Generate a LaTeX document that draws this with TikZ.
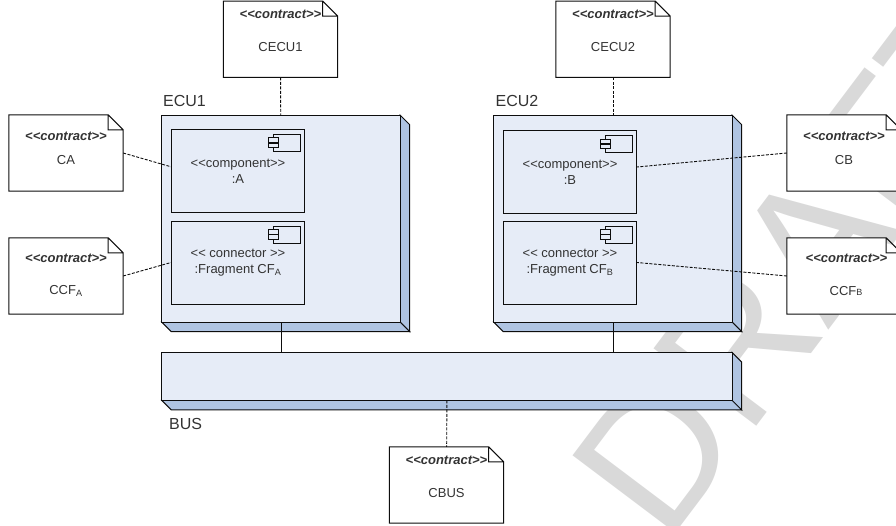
\documentclass[tikz,border=0pt]{standalone}
\usepackage{fontspec}
\setmainfont{Liberation Sans}
\definecolor{boxfront}{HTML}{E6ECF7}
\definecolor{boxside}{HTML}{AFC4E2}
\definecolor{boxline}{HTML}{0D0D0D}
\definecolor{watermark}{HTML}{D9D9D9}
\begin{document}
\begin{tikzpicture}[x=1pt,y=-1pt,font=\fontsize{13}{16}\selectfont,text=black!80]
\tikzstyle{contract} = [rectangle, minimum width=114pt, minimum height=76pt, inner sep=0pt,
append after command={\pgfextra{\draw [draw=boxline, fill=white, line width=1pt]
(\tikzlastnode.north west) -- ([xshift=-15pt]\tikzlastnode.north east) -- ([yshift=-15pt]\tikzlastnode.north east) -- (\tikzlastnode.south east) -- (\tikzlastnode.south west) -- cycle
([xshift=-15pt]\tikzlastnode.north east) |- ([yshift=-15pt]\tikzlastnode.north east);}}]
\tikzstyle{stereo} = [inner sep=0pt, font=\fontsize{13}{16}\selectfont\bfseries\itshape]
\tikzstyle{device} = [rectangle, inner sep=0pt,
append after command={\pgfextra{\draw [draw=boxline, fill=boxside, line width=1pt]
(\tikzlastnode.north east) -- ++(9.5pt,-9.5pt) -- ([shift={(9.5pt,-9.5pt)}]\tikzlastnode.south east) -- (\tikzlastnode.south east) -- cycle
(\tikzlastnode.south west) -- ++(9.5pt,-9.5pt) -- ([shift={(9.5pt,-9.5pt)}]\tikzlastnode.south east) -- (\tikzlastnode.south east) -- cycle;
\draw [draw=boxline, fill=boxfront, line width=1pt] (\tikzlastnode.north west) rectangle (\tikzlastnode.south east);}}]
\tikzstyle{part} = [rectangle, draw=boxline, fill=boxfront, line width=.9pt, minimum width=133pt, minimum height=83pt, inner sep=0pt, align=center]
\tikzstyle{icon} = [rectangle, draw=boxline, fill=boxfront, line width=.9pt, minimum width=27pt, minimum height=17pt, inner sep=0pt]
\tikzstyle{plug} = [rectangle, draw=boxline, fill=boxfront, line width=.9pt, minimum width=10.5pt, minimum height=4.4pt, inner sep=0pt]
\tikzstyle{partname} = [inner sep=0pt, align=center]
\tikzstyle{title} = [inner sep=0pt, font=\fontsize{16}{16}\selectfont, anchor=base west]
\tikzstyle{line} = [draw=boxline, line width=.9pt]
\tikzstyle{dep} = [draw=boxline, line width=.9pt, dash pattern=on 3pt off 1.5pt]
\useasboundingbox (0,0) rectangle (896,526);
% watermark
\node [rotate=53, text=watermark, inner sep=0pt, anchor=base west, font=\fontsize{187}{187}\selectfont] (draft) at (666,546) {DRAFT};
% contracts
\node [contract] (CECU1) at (280.5,39.3) {};
\node [contract] (CECU2) at (613,39.3) {};
\node [contract] (CA) at (66,153) {};
\node [contract] (CCFA) at (66,276) {};
\node [contract] (CB) at (844,153) {};
\node [contract] (CCFB) at (844,276) {};
\node [contract] (CBUS) at (446.5,485) {};
\node [stereo] (sCECU1) at ([yshift=-13pt]CECU1.north) {<{}<contract>{}>};
\node [stereo] (sCECU2) at ([yshift=-13pt]CECU2.north) {<{}<contract>{}>};
\node [stereo] (sCA) at ([yshift=-21.5pt]CA.north) {<{}<contract>{}>};
\node [stereo] (sCCFA) at ([yshift=-21pt]CCFA.north) {<{}<contract>{}>};
\node [stereo] (sCB) at ([yshift=-21.5pt]CB.north) {<{}<contract>{}>};
\node [stereo] (sCCFB) at ([shift={(2.5pt,-21pt)}]CCFB.north) {<{}<contract>{}>};
\node [stereo] (sCBUS) at ([yshift=-13.5pt]CBUS.north) {<{}<contract>{}>};
\node [partname] (nCECU1) at ([yshift=-8pt]CECU1.center) {CECU1};
\node [partname] (nCECU2) at ([yshift=-8pt]CECU2.center) {CECU2};
\node [partname] (nCA) at ([yshift=-7pt]CA.center) {CA};
\node [partname] (nCCFA) at ([yshift=-15pt]CCFA.center) {CCF\textsubscript{A}};
\node [partname] (nCB) at ([yshift=-7pt]CB.center) {CB};
\node [partname] (nCCFB) at ([shift={(2pt,-15pt)}]CCFB.center) {CCF{\fontsize{9}{9}\selectfont B}};
\node [partname] (nCBUS) at ([yshift=-8pt]CBUS.center) {CBUS};
% devices
\node [device, minimum width=238pt, minimum height=206.5pt] (ECU1) at (281,218.7) {};
\node [device, minimum width=238pt, minimum height=206.5pt] (ECU2) at (613,218.7) {};
\node [device, minimum width=570pt, minimum height=47.5pt] (BUS) at (447,376.5) {};
\node [title] (tECU1) at (163,106.5) {ECU1};
\node [title] (tECU2) at (495.5,106.5) {ECU2};
\node [title] (tBUS) at (169,429) {BUS};
% parts
\node [part] (A) at (238,170.8) {<{}<component>{}>\\:A};
\node [part] (FA) at (238,262.5) {<{}< connector >{}>\\:Fragment CF\textsubscript{A}};
\node [part] (B) at (570,172) {<{}<component>{}>\\:B};
\node [part] (FB) at (570,262.5) {<{}< connector >{}>\\:Fragment CF\textsubscript{B}};
% component icons
\node [icon, anchor=north east] (iconA) at ([shift={(-4pt,-5pt)}]A.north east) {};
\node [plug, anchor=south] (plugA1) at ([xshift=-13.4pt]iconA.center) {};
\node [plug, anchor=north] (plugA2) at ([xshift=-13.4pt]iconA.center) {};
\node [icon, anchor=north east] (iconFA) at ([shift={(-4pt,-5pt)}]FA.north east) {};
\node [plug, anchor=south] (plugFA1) at ([xshift=-13.4pt]iconFA.center) {};
\node [plug, anchor=north] (plugFA2) at ([xshift=-13.4pt]iconFA.center) {};
\node [icon, anchor=north east] (iconB) at ([shift={(-4pt,-5pt)}]B.north east) {};
\node [plug, anchor=south] (plugB1) at ([xshift=-13.4pt]iconB.center) {};
\node [plug, anchor=north] (plugB2) at ([xshift=-13.4pt]iconB.center) {};
\node [icon, anchor=north east] (iconFB) at ([shift={(-4pt,-5pt)}]FB.north east) {};
\node [plug, anchor=south] (plugFB1) at ([xshift=-13.4pt]iconFB.center) {};
\node [plug, anchor=north] (plugFB2) at ([xshift=-13.4pt]iconFB.center) {};
% connectors
\path [dep] (CECU1) -- (ECU1);
\path [dep] (CECU2) -- (ECU2);
\path [dep] (CA.east) -- ([yshift=4pt]A.west);
\path [dep] (CCFA.east) -- (FA.west);
\path [dep] (CB.west) -- ([yshift=5pt]B.east);
\path [dep] (CCFB.west) -- (FB.east);
\path [dep] (BUS) -- (CBUS);
\path [line] (ECU1.south) -- (ECU1.south |- BUS.north);
\path [line] (ECU2.south) -- (ECU2.south |- BUS.north);
\end{tikzpicture}
\end{document}
